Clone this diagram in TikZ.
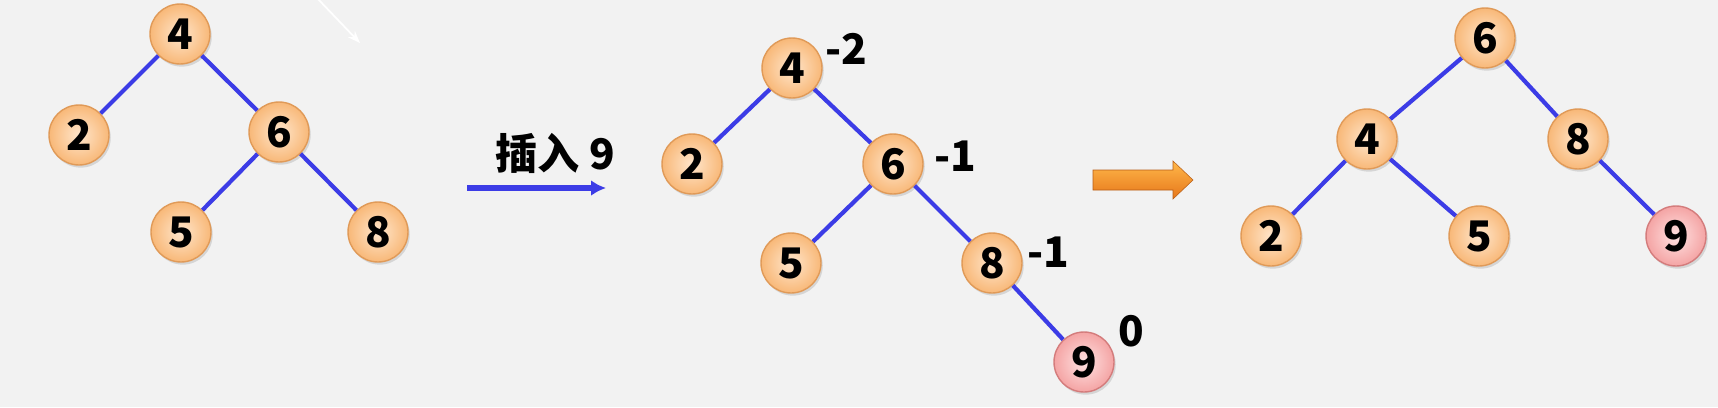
\documentclass[tikz,border=0pt]{standalone}
\usepackage{fontspec}
\newfontfamily\cjk{Noto Sans CJK SC}
\usetikzlibrary{arrows.meta,shadows}
\definecolor{bg}{HTML}{F2F2F2}
\definecolor{keyin}{HTML}{FFE6CC}
\definecolor{keyout}{HTML}{F8B878}
\definecolor{keyline}{HTML}{E09A58}
\definecolor{newin}{HTML}{FFE2E2}
\definecolor{newout}{HTML}{F4A4A4}
\definecolor{newline}{HTML}{D47C7C}
\definecolor{edgeblue}{HTML}{3C3CE6}
\definecolor{goup}{HTML}{FFB84A}
\definecolor{godown}{HTML}{E6761A}

\begin{document}
\begin{tikzpicture}[x=0.02cm,y=-0.02cm,
    every node/.style={font=\cjk\bfseries\fontsize{24}{24}\selectfont},
    key/.style={circle,minimum size=1.2cm,inner sep=0pt,draw=keyline,line width=0.8pt,
      inner color=keyin,outer color=keyout,
      drop shadow={shadow xshift=1pt,shadow yshift=-1.5pt,opacity=0.25}},
    newkey/.style={key,draw=newline,inner color=newin,outer color=newout},
    edge/.style={draw=edgeblue,line width=2.4pt}]
    \fill[bg] (0,0) rectangle (1718,407);
    \useasboundingbox (0,0) rectangle (1718,407);
    % stray pointer at the top
    \draw[white,line width=1pt,-{Stealth[length=7pt]}] (317,-2) -- (360,43);
    % before insertion
    \node[key] (a4) at (180,34) {4};
    \node[key] (a2) at (79,135) {2};
    \node[key] (a6) at (279,132) {6};
    \node[key] (a5) at (181,232) {5};
    \node[key] (a8) at (378,232) {8};
    \foreach \u/\v in {a4/a2,a4/a6,a6/a5,a6/a8} { \draw[edge] (\u) -- (\v); }
    % insert arrow
    \coordinate (ins0) at (467,188);
    \coordinate (ins1) at (606,188);
    \draw[edgeblue,line width=3pt,-{Latex[length=8.5pt,width=9pt]}] (ins0) -- (ins1);
    \node (inslbl) at (555,153) {插入 9};
    % after insertion, with balance factors
    \node[key] (b4) at (792,68) {4};
    \node[key] (b2) at (692,164) {2};
    \node[key] (b6) at (893,164) {6};
    \node[key] (b5) at (791,263) {5};
    \node[key] (b8) at (992,263) {8};
    \node[newkey] (b9) at (1084,362) {9};
    \foreach \u/\v in {b4/b2,b4/b6,b6/b5,b6/b8,b8/b9} { \draw[edge] (\u) -- (\v); }
    \node (bf4) at (846,49) {-2};
    \node (bf6) at (955,156) {-1};
    \node (bf8) at (1048,252) {-1};
    \node (bf9) at (1131,331) {0};
    % rotation arrow
    \shade[top color=goup,bottom color=godown,draw=godown!80!black,line width=0.3pt]
      (1093,170) -- (1173,170) -- (1173,161) -- (1193,180) -- (1173,199) -- (1173,190) -- (1093,190) -- cycle;
    % after rotation
    \node[key] (c6) at (1485,38) {6};
    \node[key] (c4) at (1367,139) {4};
    \node[key] (c8) at (1578,139) {8};
    \node[key] (c2) at (1271,236) {2};
    \node[key] (c5) at (1479,236) {5};
    \node[newkey] (c9) at (1676,236) {9};
    \foreach \u/\v in {c6/c4,c6/c8,c4/c2,c4/c5,c8/c9} { \draw[edge] (\u) -- (\v); }
\end{tikzpicture}
\end{document}
